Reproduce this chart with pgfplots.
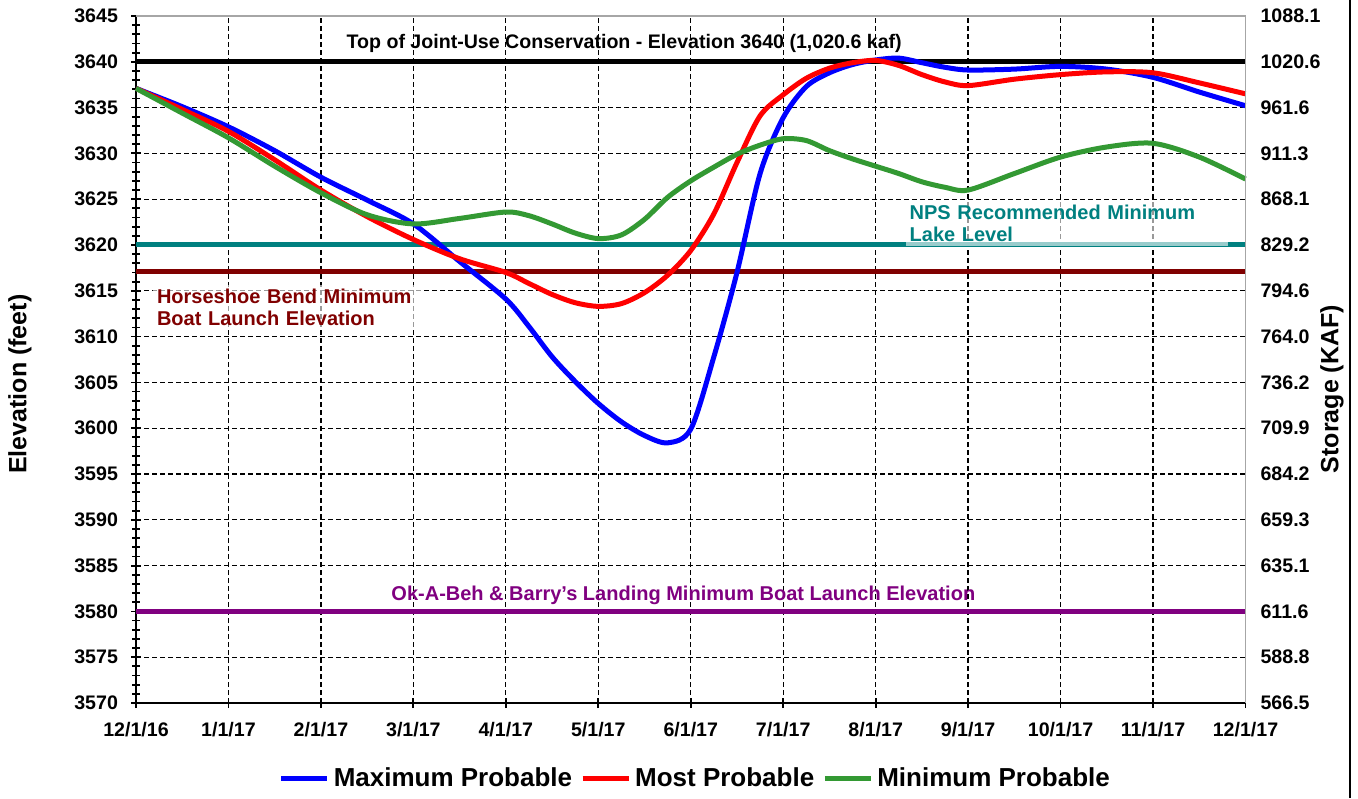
\documentclass[border=0pt]{standalone}
\usepackage{pgfplots}
\pgfplotsset{compat=1.18}
\usepackage{fontspec}
\setmainfont{Liberation Sans}
\definecolor{cblue}{RGB}{0,0,255}
\definecolor{cred}{RGB}{255,0,0}
\definecolor{cgreen}{RGB}{51,153,51}
\definecolor{cteal}{RGB}{0,128,128}
\definecolor{cmaroon}{RGB}{128,0,0}
\definecolor{cpurple}{RGB}{128,0,128}
\begin{document}
\begin{tikzpicture}[x=1pt,y=1pt]
\path[use as bounding box] (0,0) rectangle (679,399);
\draw[black, line width=1pt] (675,0) -- (675,399);
\begin{axis}[
  at={(68pt,47.5pt)}, anchor=south west, scale only axis,
  width=554.75pt, height=343.5pt,
  xmin=0, xmax=12, ymin=3570, ymax=3645,
  clip=false,
  axis x line*=bottom, axis y line*=left,
  xtick={0,...,12},
  xticklabels={12/1/16,1/1/17,2/1/17,3/1/17,4/1/17,5/1/17,6/1/17,7/1/17,8/1/17,9/1/17,10/1/17,11/1/17,12/1/17},
  ytick={3570,3575,...,3645},
  minor y tick num=4,
  grid=major,
  major grid style={black, dash pattern=on 2.5pt off 1.5pt, line width=0.65pt},
  tick align=center, major tick length=5pt, minor tick length=4pt,
  tick style={black, line width=0.9pt},
  axis line style={line width=0.9pt},
  /pgf/number format/assume math mode=true,
  /pgf/number format/1000 sep={},
  ticklabel style={font=\fontsize{9.8}{11}\selectfont\bfseries},
  yticklabel style={xshift=-3pt},
  xticklabel style={yshift=-3.5pt},
  legend style={at={(0.505,-0.11)}, anchor=center, draw=none, fill=none,
    font=\fontsize{13}{15}\selectfont\bfseries, legend columns=3,
    /tikz/every even column/.append style={column sep=2pt}},
  legend image code/.code={\draw[#1, line width=2.5pt] (0pt,0pt) -- (23pt,0pt);},
]
% plot area top border (gray)
\draw[gray!70, line width=0.6pt] (rel axis cs:0,1) -- (rel axis cs:1,1);
% reference lines
\addplot[black, line width=2.5pt, forget plot] coordinates {(0,3640) (12,3640)};
\addplot[cteal, line width=2.5pt, forget plot] coordinates {(0,3620) (12,3620)};
\addplot[cmaroon, line width=2.5pt, forget plot] coordinates {(0,3617.1) (12,3617.1)};
\addplot[cpurple, line width=2.5pt, forget plot] coordinates {(0,3580) (12,3580)};
% series
\addplot[cblue, line width=2.5pt, smooth, tension=0.5] coordinates {
(0,3637.1) (0.5,3635.1) (1,3632.9) (1.5,3630.3) (2,3627.4) (2.5,3624.9) (3,3622.3)
(3.5,3618.2) (4,3614.1) (4.25,3611.1) (4.5,3607.8) (4.75,3605.1) (5,3602.7)
(5.25,3600.7) (5.5,3599.2) (5.75,3598.4) (6,3599.9) (6.25,3607.8) (6.5,3617.0)
(6.75,3627.8) (7,3633.9) (7.25,3637.3) (7.5,3638.8) (7.75,3639.7) (8,3640.2)
(8.25,3640.4) (8.5,3639.9) (8.75,3639.4) (9,3639.1) (9.5,3639.2) (10,3639.5)
(10.5,3639.2) (11,3638.3) (11.5,3636.7) (12,3635.2)};
\addlegendentry{Maximum Probable}
\addplot[cred, line width=2.5pt, smooth, tension=0.5] coordinates {
(0,3637.1) (0.5,3634.8) (1,3632.4) (1.5,3629.3) (2,3626.0) (2.5,3623.1) (3,3620.6)
(3.5,3618.5) (4,3617.0) (4.25,3615.8) (4.5,3614.6) (4.75,3613.7) (5,3613.3)
(5.25,3613.6) (5.5,3614.8) (5.75,3616.7) (6,3619.4) (6.25,3623.4) (6.5,3629.0)
(6.75,3634.1) (7,3636.4) (7.25,3638.2) (7.5,3639.3) (7.75,3639.9) (8,3640.15)
(8.25,3639.6) (8.5,3638.6) (8.75,3637.8) (9,3637.4) (9.5,3638.1) (10,3638.6)
(10.5,3638.9) (11,3638.8) (11.5,3637.7) (12,3636.5)};
\addlegendentry{Most Probable}
\addplot[cgreen, line width=2.5pt, smooth, tension=0.5] coordinates {
(0,3637.1) (0.5,3634.4) (1,3631.7) (1.5,3628.6) (2,3625.7) (2.5,3623.3) (3,3622.3)
(3.5,3622.9) (4,3623.6) (4.25,3623.2) (4.5,3622.3) (4.75,3621.3) (5,3620.7)
(5.25,3621.1) (5.5,3622.8) (5.75,3625.2) (6,3627.0) (6.25,3628.5) (6.5,3629.9)
(6.75,3630.9) (7,3631.6) (7.25,3631.4) (7.5,3630.3) (7.75,3629.4) (8,3628.6)
(8.25,3627.8) (8.5,3626.9) (8.75,3626.3) (9,3626.0) (9.5,3627.8) (10,3629.6)
(10.5,3630.7) (11,3631.1) (11.5,3629.6) (12,3627.2)};
\addlegendentry{Minimum Probable}
% annotations
\node[font=\fontsize{9.8}{11}\selectfont\bfseries, text=black] at (axis cs:5.28,3642.0)
  {Top of Joint-Use Conservation - Elevation 3640 (1,020.6 kaf)};
\node[font=\fontsize{10}{11}\selectfont\bfseries, text=cteal, align=left,
  anchor=north west, fill=white, fill opacity=0.6, text opacity=1,
  inner sep=2pt, text width=157pt] at (axis cs:8.32,3624.85)
  {NPS Recommended Minimum\\Lake Level};
\node[font=\fontsize{10}{11}\selectfont\bfseries, text=cmaroon, align=left,
  anchor=north west, fill=white, fill opacity=0.6, text opacity=1,
  inner sep=2pt, text width=130pt] at (axis cs:0.18,3615.7)
  {Horseshoe Bend Minimum\\Boat Launch Elevation};
\node[font=\fontsize{10}{11}\selectfont\bfseries, text=cpurple] at (axis cs:5.92,3581.7)
  {Ok-A-Beh \& Barry's Landing Minimum Boat Launch Elevation};
\node[font=\fontsize{12.5}{14}\selectfont\bfseries, rotate=90] at (rel axis cs:-0.1046,0.464)
  {Elevation (feet)};
\node[font=\fontsize{12.5}{14}\selectfont\bfseries, rotate=90] at (rel axis cs:1.078,0.457)
  {Storage (KAF)};
\end{axis}
\begin{axis}[
  at={(68pt,47.5pt)}, anchor=south west, scale only axis,
  width=554.75pt, height=343.5pt,
  xmin=0, xmax=12, ymin=3570, ymax=3645,
  axis x line=none, axis y line*=right,
  axis line style={gray!70, line width=0.6pt},
  ytick={3570,3575,...,3645},
  yticklabels={566.5,588.8,611.6,635.1,659.3,684.2,709.9,736.2,764.0,794.6,829.2,868.1,911.3,961.6,1020.6,1088.1},
  major tick length=0pt,
  yticklabel style={font=\fontsize{9.8}{11}\selectfont\bfseries, anchor=west, xshift=4pt},
]
\end{axis}
\end{tikzpicture}
\end{document}
